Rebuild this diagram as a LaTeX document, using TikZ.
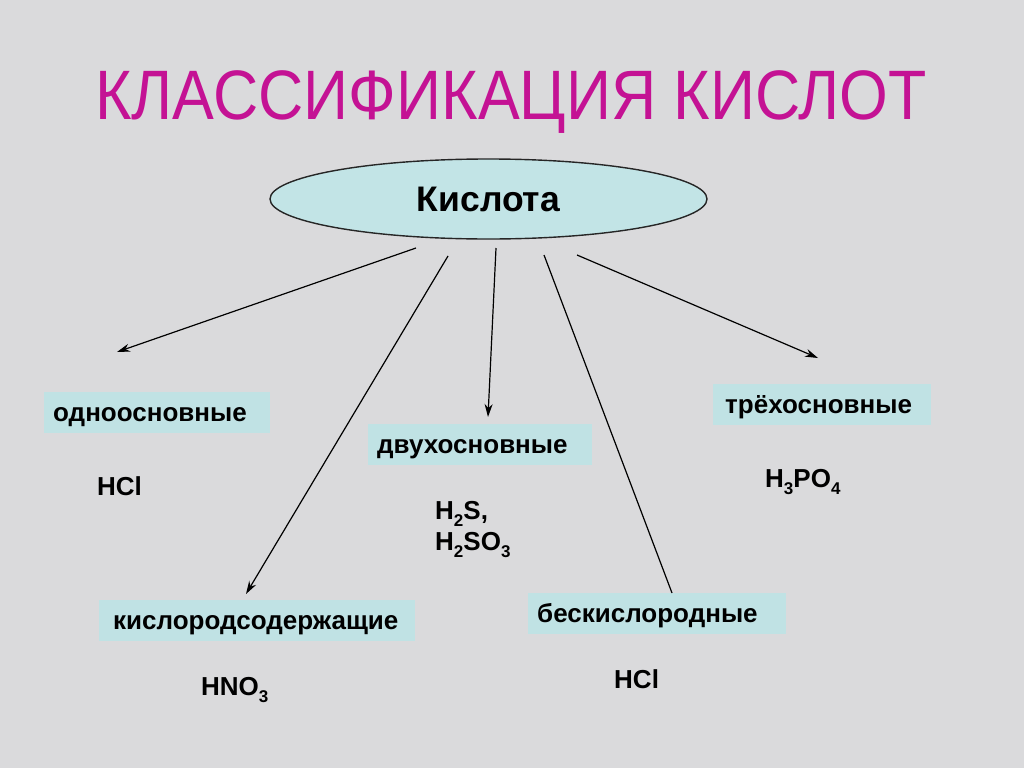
\documentclass[tikz,border=0pt]{standalone}
\usepackage{fontspec}
\setmainfont{Liberation Sans}
\usetikzlibrary{shapes.geometric,arrows.meta}
\definecolor{bg}{RGB}{218,218,220}
\definecolor{boxblue}{RGB}{192,226,228}
\definecolor{ellblue}{RGB}{194,228,230}
\definecolor{titlemag}{RGB}{196,18,148}
\newcommand\chemsub[1]{\raisebox{-0.28em}{\fontsize{17}{17}\selectfont #1}}
\begin{document}
\begin{tikzpicture}[x=1pt,y=-1pt,
  lbl/.style={fill=boxblue, anchor=north west, minimum height=41pt, inner xsep=9pt, inner ysep=8pt,
    text height=21pt, text depth=4pt, align=left, font=\fontsize{26}{30}\selectfont\bfseries},
  formula/.style={anchor=base west, inner sep=0pt, font=\fontsize{26}{30}\selectfont\bfseries},
  conn/.style={draw=black, line width=1.2pt},
  tip/.style={-{Stealth[length=13pt,width=8pt]}}]
\useasboundingbox (0,0) rectangle (1024,768);
\fill[bg] (0,0) rectangle (1024,768);

% title
\node[anchor=base, inner sep=0pt, text=titlemag, font=\fontsize{70}{80}\selectfont] (title) at (511,119)
  {\scalebox{0.895}[1]{КЛАССИФИКАЦИЯ КИСЛОТ}};

% root
\node[ellipse, draw=black!85, line width=1.4pt, fill=ellblue, minimum width=437pt, minimum height=80pt,
  inner sep=0pt, font=\fontsize{35.5}{40}\selectfont\bfseries] (root) at (488.5,199) {Кислота};

% category boxes
\node[lbl, inner xsep=9pt, text width=208pt] (one) at (44,392) {одноосновные};
\node[lbl, inner xsep=9pt, text width=206pt] (two) at (368,424) {двухосновные};
\node[lbl, inner xsep=12pt, text width=194pt] (three) at (713,384) {трёхосновные};
\node[lbl, inner xsep=14pt, text width=288pt] (oxy) at (99,600) {кислородсодержащие};
\node[lbl, inner xsep=9pt, text width=240pt] (nonoxy) at (528,593) {бескислородные};

% formulas
\node[formula] (f1) at (97,495) {HCl};
\node[formula] (f2a) at (435,519) {H\chemsub{2}S,};
\node[formula] (f2b) at (435,550) {H\chemsub{2}SO\chemsub{3}};
\node[formula] (f3) at (765,487) {H\chemsub{3}PO\chemsub{4}};
\node[formula] (f4) at (201,695) {HNO\chemsub{3}};
\node[formula] (f5) at (614,688) {HCl};

% connectors
\coordinate (s1) at (416,248); \coordinate (e1) at (117,352);
\coordinate (s2) at (448,256); \coordinate (e2) at (246,594);
\coordinate (s3) at (496,248); \coordinate (e3) at (488,417);
\coordinate (s4) at (544,255); \coordinate (e4) at (672,593);
\coordinate (s5) at (577,255); \coordinate (e5) at (818,358);
\draw[conn,tip] (s1) -- (e1);
\draw[conn,tip] (s2) -- (e2);
\draw[conn,tip] (s3) -- (e3);
\draw[conn] (s4) -- (e4);
\draw[conn,tip] (s5) -- (e5);
\end{tikzpicture}
\end{document}
